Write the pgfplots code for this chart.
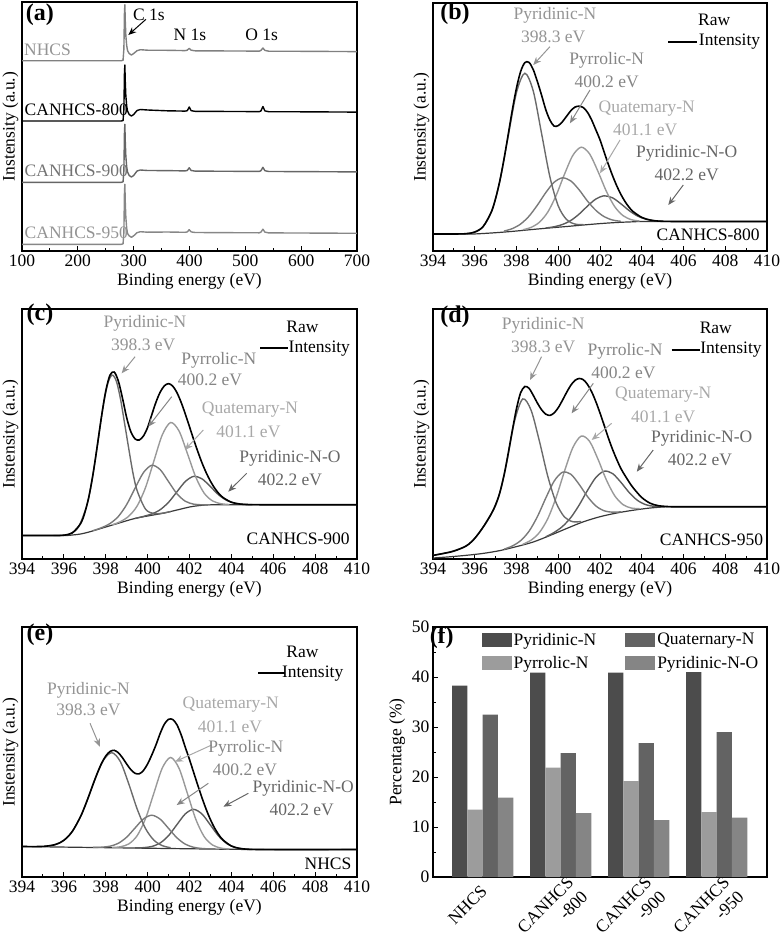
\documentclass[border=0pt]{standalone}
\usepackage{fontspec}
\setmainfont{Liberation Serif}
\usepackage{pgfplots}
\pgfplotsset{compat=1.18}
\usetikzlibrary{arrows.meta}
\newcommand\fs{\fontsize{17.5}{20}\selectfont}
\newcommand\fb{\fontsize{24}{26}\selectfont\bfseries}
\definecolor{cP1}{gray}{0.42}
\definecolor{cP2}{gray}{0.48}
\definecolor{cP3}{gray}{0.60}
\definecolor{cP4}{gray}{0.36}
\definecolor{cBg}{gray}{0.22}
\definecolor{tP1}{gray}{0.58}
\definecolor{tP2}{gray}{0.52}
\definecolor{tP3}{gray}{0.66}
\definecolor{tP4}{gray}{0.40}
\definecolor{aN}{gray}{0.50}
\definecolor{aNt}{gray}{0.58}
\definecolor{a9}{gray}{0.40}
\definecolor{a9t}{gray}{0.45}
\definecolor{a5}{gray}{0.53}
\definecolor{a5t}{gray}{0.58}
\definecolor{bP1}{gray}{0.30}
\definecolor{bP2}{gray}{0.61}
\definecolor{bP3}{gray}{0.39}
\definecolor{bP4}{gray}{0.52}
\pgfplotsset{
 base/.style={scale only axis, axis line style={line width=1.1pt}, tick align=inside,
   tick style={black, line width=0.9pt}, major tick length=5pt, minor tick length=3pt,
   tick label style={font=\fs}, label style={font=\fs},
   /pgf/number format/assume math mode=true, clip mode=individual},
 spec/.style={base, width=335pt, height=250pt, xmin=394, xmax=410, ymin=0, ymax=250,
   xtick={394,396,...,410}, minor x tick num=1, xtick pos=left, ytick=\empty,
   xlabel={Binding energy (eV)}, ylabel={Instensity (a.u.)}},
 env/.style={black, line width=1.6pt, smooth, no marks},
 comp/.style={line width=1.4pt, smooth, no marks},
 bgl/.style={cBg, line width=1.2pt, smooth, no marks},
 surv/.style={line width=1.4pt, sharp plot, no marks, line join=round},
}
\tikzset{
 lab/.style={font=\fs, inner sep=0pt},
 arr/.style={-{Stealth[length=8pt,width=6.5pt]}, line width=1pt},
 leg/.style={black, line width=2pt},
}
\begin{document}
\begin{tikzpicture}
\useasboundingbox (0,0) rectangle (780pt,-945pt);

% ---------------- (a) ----------------
\begin{axis}[base, at={(22pt,-251pt)}, anchor=south west, width=335pt, height=249pt,
  xmin=100, xmax=700, ymin=0, ymax=249, xtick={100,200,...,700}, minor x tick num=1,
  xtick pos=left, ytick=\empty, xlabel={Binding energy (eV)}, ylabel={Instensity (a.u.)}]
\addplot[surv, a5] coordinates {(100,6.7) (278,6.7) (281,7.2) (282.5,18.7) (283.5,57.7) (284.2,66.7) (285,48.7) (286,33.7) (287.5,22.9) (289,17.5) (292,15.2) (296,13.7) (300,15.2) (306,18.3) (312,19.3) (325,18.8) (360,19.0) (392,18.7) (396,19.1) (399.5,21.3) (403,19.1) (410,18.5) (480,18.3) (525,18.2) (528,18.9) (531.5,21.8) (535,18.9) (542,18.1) (600,18.0) (700,17.7)};
\addplot[surv, a9] coordinates {(100,68.7) (278,68.7) (281,69.2) (282.5,80.7) (283.5,118.0) (284.2,126.7) (285,109.3) (286,94.8) (287.5,84.4) (289,79.1) (292,75.5) (296,74.0) (300,75.5) (306,80.0) (312,81.0) (325,80.5) (360,80.4) (392,80.1) (396,80.5) (399.5,83.2) (403,80.5) (410,79.9) (480,79.7) (525,79.6) (528,80.3) (531.5,83.7) (535,80.3) (542,79.5) (600,79.4) (700,79.1)};
\addplot[surv, black] coordinates {(100,130) (278,130) (281,130.5) (282.5,142) (283.5,177.6) (284.2,186) (285,169.2) (286,155.2) (287.5,145.1) (289,140.1) (292,136.5) (296,135) (300,136.5) (306,140.5) (312,141.5) (325,141) (360,140.2) (392,139.9) (396,140.3) (399.5,144) (403,140.3) (410,139.7) (480,139.5) (525,139.4) (528,140.1) (531.5,144.5) (535,140.1) (542,139.3) (600,139.2) (700,138.9)};
\addplot[surv, aN] coordinates {(100,190.3) (278,190.3) (281,190.8) (282.5,202.3) (283.5,237.9) (284.2,246.3) (285,229.5) (286,215.5) (287.5,205.4) (289,200.4) (292,197.5) (296,196.0) (300,197.5) (306,200.3) (312,201.3) (325,200.8) (360,200.7) (392,200.4) (396,200.8) (399.5,202.7) (403,200.8) (410,200.2) (480,200.0) (525,199.9) (528,200.6) (531.5,203.0) (535,200.6) (542,199.8) (600,199.7) (700,199.4)};
\node[lab, font=\fb] at (axis cs:132.2,236) {(a)};
\node[lab] at (axis cs:327.5,236) {C 1s};
\draw[arr, black] (axis cs:322,231.7) -- (axis cs:290.4,216);
\node[lab] at (axis cs:400.9,216) {N 1s};
\node[lab] at (axis cs:529.3,216) {O 1s};
\node[lab, anchor=west, aNt] at (axis cs:103.6,201.7) {NHCS};
\node[lab, anchor=west, black] at (axis cs:104.5,141.7) {CANHCS-800};
\node[lab, anchor=west, a9t] at (axis cs:104.5,80) {CANHCS-900};
\node[lab, anchor=west, a5t] at (axis cs:104.5,18.7) {CANHCS-950};
\end{axis}

% ---------------- (b) ----------------
\begin{axis}[spec, at={(433pt,-251pt)}, anchor=south west, width=334pt, height=248pt, ymax=248]
\addplot[bgl] coordinates {(394,17) (395.8,17) (396.4,17.5) (397.2,18.6) (398.0,20.0) (398.8,21.6) (399.6,23.1) (400.4,24.5) (401.2,26.0) (402.0,27.4) (402.8,28.5) (403.6,29.2) (404.4,29.5) (410,29.5)};
\addplot[comp, cP4] coordinates {(399.4,22.97) (399.8,24.24) (400.2,26.48) (400.6,30.51) (401.0,36.91) (401.4,44.88) (401.8,51.97) (402.2,55.2) (402.6,53.17) (403.0,47.23) (403.4,40.36) (403.8,34.96) (404.2,31.78) (404.6,30.29) (405.0,29.72)};
\addplot[comp, cP3] coordinates {(398.3,21.22) (398.7,23.63) (399.1,28.81) (399.5,38.96) (399.9,55.67) (400.3,76.85) (400.7,95.67) (401.1,103.8) (401.5,97.17) (401.9,79.75) (402.3,59.92) (402.7,44.46) (403.1,35.41) (403.5,31.33) (403.9,29.97)};
\addplot[comp, cP2] coordinates {(397.4,19.92) (397.8,22.40) (398.2,27.03) (398.6,34.82) (399.0,45.85) (399.4,58.33) (399.8,68.68) (400.2,73.15) (400.6,70.08) (401.0,61.18) (401.4,49.93) (401.8,40.67) (402.2,34.33) (402.6,31.0) (403.0,29.67)};
\addplot[comp, cP1] coordinates {(395.6,17.35) (396.0,18.94) (396.4,24.39) (396.8,39.24) (397.2,69.58) (397.6,114.52) (398.0,158.55) (398.4,177.8) (398.8,160.15) (399.2,117.62) (399.6,74.08) (400.0,45.04) (400.4,31.39) (400.8,26.94) (401.2,26.35)};
\addplot[env] coordinates {(394,17.0) (395,17.0) (395.6,17.35) (396.0,18.95) (396.4,24.4) (396.8,39.4) (397.0,52.55) (397.2,70.1) (397.4,91.8) (397.6,116.2) (397.8,141.0) (398.0,163.1) (398.2,179.6) (398.4,188.4) (398.6,188.6) (398.8,181.5) (399.0,169.5) (399.2,155.9) (399.4,141.5) (399.6,130.9) (399.8,124.9) (400.0,125.4) (400.2,129.3) (400.4,134.8) (400.6,140.2) (400.8,143.9) (401.0,144.8) (401.2,143.4) (401.4,138.7) (401.6,131.0) (401.8,121.2) (402.0,111.2) (402.2,98.8) (402.4,86.7) (402.6,75.4) (402.8,65.3) (403.0,56.6) (403.2,49.4) (403.4,43.6) (403.6,39.2) (404.0,33.6) (404.4,31.0) (404.8,29.9) (405.4,29.55) (406,29.5) (410,29.5)};
\node[lab, font=\fb] at (axis cs:395.05,237.7) {(b)};
\node[lab, tP1] at (axis cs:399.84,236) {Pyridinic-N};
\node[lab, tP1] at (axis cs:399.76,214.3) {398.3 eV};
\draw[arr, tP1] (axis cs:399.6,204.3) -- (axis cs:398.8,186);
\node[lab, tP2] at (axis cs:402.32,191) {Pyrrolic-N};
\node[lab, tP2] at (axis cs:402.32,169.3) {400.2 eV};
\draw[arr, tP2] (axis cs:401.52,161) -- (axis cs:400.56,127.7);
\node[lab, tP3] at (axis cs:404.24,142.7) {Quatemary-N};
\node[lab, tP3] at (axis cs:404.16,121) {401.1 eV};
\draw[arr, tP3] (axis cs:402.96,111) -- (axis cs:402.0,77.7);
\node[lab, tP4] at (axis cs:406.15,97.7) {Pyridinic-N-O};
\node[lab, tP4] at (axis cs:406.15,76) {402.2 eV};
\draw[arr, tP4] (axis cs:405.99,66) -- (axis cs:405.27,46);
\node[lab, anchor=west] at (axis cs:406.69,231) {Raw};
\node[lab, anchor=west] at (axis cs:406.73,209.3) {Intensity};
\draw[leg] (axis cs:405.27,209.3) -- (axis cs:406.63,209.3);
\node[lab, anchor=east] at (axis cs:409.66,16) {CANHCS-800};
\end{axis}

% ---------------- (c) ----------------
\begin{axis}[spec, at={(22pt,-559pt)}, anchor=south west]
\addplot[bgl] coordinates {(394,23.5) (396.0,23.5) (396.4,24) (396.8,25) (397.2,27) (397.6,29.5) (398.0,32) (398.4,34.5) (398.8,37) (399.2,39.5) (399.6,41.5) (400.0,43) (400.4,44.5) (400.8,46) (401.2,48) (401.6,50) (402.0,52) (402.4,53.3) (402.8,54) (403.2,54.3) (410,54.3)};
\addplot[comp, cP4] coordinates {(399.4,40.57) (399.8,42.58) (400.2,45.07) (400.6,49.31) (401.0,56.74) (401.4,67.2) (401.8,77.48) (402.2,82.65) (402.6,80.13) (403.0,72.35) (403.4,64.04) (403.8,58.36) (404.2,55.62) (404.6,54.63) (405.0,54.37)};
\addplot[comp, cP3] coordinates {(398.3,34.1) (398.7,37.39) (399.1,42.81) (399.5,53.04) (399.9,71.5) (400.3,98.08) (400.7,124.14) (401.1,136.5) (401.5,128.04) (401.9,105.48) (402.3,81.9) (402.7,65.84) (403.1,58.11) (403.5,55.29) (403.9,54.5)};
\addplot[comp, cP2] coordinates {(397.4,28.36) (397.8,31.31) (398.2,35.45) (398.6,42.52) (399.0,54.49) (399.4,70.83) (399.8,86.38) (400.2,93.75) (400.6,89.38) (401.0,77.33) (401.4,65.24) (401.8,57.77) (402.2,54.85) (402.6,54.21) (403.0,54.26)};
\addplot[comp, cP1] coordinates {(395.5,23.5) (395.9,23.67) (396.3,25.22) (396.7,32.0) (397.1,53.79) (397.3,73.5) (397.5,99.24) (397.7,128.1) (397.9,155.53) (398.1,175.7) (398.3,183.9) (398.5,178.2) (398.7,160.53) (398.9,135.6) (399.1,110.24) (399.3,85.9) (399.5,68.29) (399.9,49.85) (400.3,45.42) (400.7,45.77) (401.1,47.5)};
\addplot[env] coordinates {(394,23.5) (395,23.5) (395.6,23.5) (396.0,23.8) (396.4,26.1) (396.8,35.5) (397.0,46.3) (397.2,62.9) (397.4,85.9) (397.6,113.8) (397.8,142.9) (398.0,168.0) (398.2,183.8) (398.4,187.0) (398.6,178.1) (398.8,160.8) (399.0,141.3) (399.2,127.2) (399.4,120.1) (399.6,119.0) (399.8,123.0) (400.0,131.6) (400.2,144.4) (400.4,156.9) (400.6,166.9) (400.8,173.2) (401.0,175.4) (401.2,172.9) (401.4,166.4) (401.6,156.7) (401.8,145.0) (402.0,132.3) (402.2,119.4) (402.4,107.3) (402.6,96.0) (402.8,86.2) (403.0,77.8) (403.2,70.9) (403.4,65.5) (403.6,61.5) (404.0,56.8) (404.4,55.0) (404.8,54.45) (405.4,54.3) (406,54.3) (410,54.3)};
\node[lab, font=\fb] at (axis cs:394.86,244) {(c)};
\node[lab, tP1] at (axis cs:399.87,235.7) {Pyridinic-N};
\node[lab, tP1] at (axis cs:399.79,214) {398.3 eV};
\draw[arr, tP1] (axis cs:399.4,202.3) -- (axis cs:398.76,185.7);
\node[lab, tP2] at (axis cs:403.4,199) {Pyrrolic-N};
\node[lab, tP2] at (axis cs:402.98,179) {400.2 eV};
\draw[arr, tP2] (axis cs:401.15,162.3) -- (axis cs:400.03,132.3);
\node[lab, tP3] at (axis cs:404.89,149) {Quatemary-N};
\node[lab, tP3] at (axis cs:404.81,127.3) {401.1 eV};
\draw[arr, tP3] (axis cs:402.66,129) -- (axis cs:401.78,109);
\node[lab, tP4] at (axis cs:406.8,100.7) {Pyridinic-N-O};
\node[lab, tP4] at (axis cs:406.8,79) {402.2 eV};
\draw[arr, tP4] (axis cs:404.73,85.7) -- (axis cs:403.85,67.3);
\node[lab, anchor=west] at (axis cs:406.62,232.3) {Raw};
\node[lab, anchor=west] at (axis cs:406.73,210.7) {Intensity};
\draw[leg] (axis cs:405.37,210.7) -- (axis cs:406.72,210.7);
\node[lab, anchor=east] at (axis cs:409.66,20.7) {CANHCS-900};
\end{axis}

% ---------------- (d) ----------------
\begin{axis}[spec, at={(433pt,-559pt)}, anchor=south west, width=334pt]
\addplot[bgl] coordinates {(394,1) (394.8,2.2) (395.6,3.7) (396.4,5.6) (397.2,8.4) (398.0,12.4) (398.8,17.0) (399.6,23.5) (400.4,30.5) (401.2,37.2) (402.0,42.3) (402.8,46.0) (403.6,48.8) (404.4,51.0) (405.2,52.2) (406,52.3) (410,52.3)};
\addplot[comp, cP4] coordinates {(399.4,22.1) (399.8,26.52) (400.2,32.52) (400.6,41.41) (401.0,53.89) (401.4,68.58) (401.8,81.47) (402.2,87.8) (402.6,85.47) (403.0,76.73) (403.4,66.44) (403.8,58.56) (404.2,54.27) (404.6,52.67) (405.0,52.35)};
\addplot[comp, cP3] coordinates {(398.3,14.73) (398.7,18.87) (399.1,26.58) (399.5,40.41) (399.9,61.66) (400.3,87.88) (400.7,111.47) (401.1,122.9) (401.5,117.67) (401.9,99.98) (402.3,79.36) (402.7,63.41) (403.1,54.43) (403.5,50.97) (403.9,50.38)};
\addplot[comp, cP2] coordinates {(397.4,9.81) (397.8,13.01) (398.2,18.41) (398.6,27.74) (399.0,42.34) (399.4,60.82) (399.8,77.8) (400.2,86.75) (400.6,84.8) (401.0,74.67) (401.4,62.44) (401.8,53.09) (402.2,48.21) (402.6,46.81) (403.0,47.21)};
\addplot[comp, cP1] coordinates {(394.0,3.63) (394.8,7.02) (395.5,11.97) (395.9,18.22) (396.3,28.71) (396.7,41.54) (397.1,59.1) (397.5,93.07) (397.9,137.41) (398.3,160.05) (398.7,148.68) (399.1,117.61) (399.5,82.62) (399.9,56.16) (400.3,41.97) (400.7,37.28) (401.1,37.55)};
\addplot[env] coordinates {(394.0,3.6) (394.5,5.55) (395.0,7.9) (395.6,13.2) (396.0,20.7) (396.4,31.9) (396.8,45.5) (397.0,54.4) (397.2,66.3) (397.4,83.5) (397.6,105.4) (397.8,128.5) (398.0,150.4) (398.2,166.4) (398.4,172.5) (398.6,170.7) (398.8,163.8) (399.0,156.0) (399.2,149.3) (399.4,144.9) (399.6,143.6) (399.8,146.0) (400.0,151.3) (400.2,158.7) (400.4,166.6) (400.6,173.7) (400.8,178.6) (401.0,180.5) (401.2,179.3) (401.4,174.6) (401.6,167.2) (401.8,157.4) (402.0,146.0) (402.2,133.7) (402.4,121.1) (402.6,109.7) (402.8,99.6) (403.0,90.5) (403.2,83.4) (403.4,76.8) (403.6,70.9) (404.0,61.5) (404.4,55.8) (404.8,53.3) (405.4,52.3) (406,52.3) (410,52.3)};
\node[lab, font=\fb] at (axis cs:395.05,242.3) {(d)};
\node[lab, tP1] at (axis cs:399.28,234) {Pyridinic-N};
\node[lab, tP1] at (axis cs:399.28,212.3) {398.3 eV};
\draw[arr, tP1] (axis cs:399.2,202.3) -- (axis cs:398.65,179);
\node[lab, tP2] at (axis cs:403.2,207.3) {Pyrrolic-N};
\node[lab, tP2] at (axis cs:403.12,185.7) {400.2 eV};
\draw[arr, tP2] (axis cs:401.68,175.7) -- (axis cs:400.64,145.7);
\node[lab, tP3] at (axis cs:405.03,164) {Quatemary-N};
\node[lab, tP3] at (axis cs:405.03,142.3) {401.1 eV};
\draw[arr, tP3] (axis cs:402.56,135.7) -- (axis cs:401.6,119);
\node[lab, tP4] at (axis cs:406.87,120.7) {Pyridinic-N-O};
\node[lab, tP4] at (axis cs:406.79,99) {402.2 eV};
\draw[arr, tP4] (axis cs:404.55,109) -- (axis cs:403.76,87.3);
\node[lab, anchor=west] at (axis cs:406.77,230.7) {Raw};
\node[lab, anchor=west] at (axis cs:406.8,209) {Intensity};
\draw[leg] (axis cs:405.43,209) -- (axis cs:406.79,209);
\node[lab, anchor=east] at (axis cs:409.82,19) {CANHCS-950};
\end{axis}

% ---------------- (e) ----------------
\begin{axis}[spec, at={(22pt,-877pt)}, anchor=south west]
\addplot[bgl] coordinates {(394,30.5) (405,27.5) (410,27.5)};
\addplot[comp, cP4] coordinates {(399.4,29.12) (399.8,29.36) (400.2,30.54) (400.6,34.03) (401.0,41.38) (401.4,52.38) (401.8,63.14) (402.2,67.66) (402.6,62.92) (403.0,51.95) (403.4,40.73) (403.8,33.16) (404.2,29.45) (404.6,28.05) (405.0,27.59)};
\addplot[comp, cP3] coordinates {(398.3,29.52) (398.7,30.22) (399.1,33.09) (399.5,41.31) (399.9,58.44) (400.3,83.97) (400.7,108.98) (401.1,119.56) (401.5,108.76) (401.9,83.53) (402.3,57.78) (402.7,40.43) (403.1,32.01) (403.5,28.92) (403.9,28.0)};
\addplot[comp, cP2] coordinates {(397.4,29.64) (397.8,29.83) (398.2,30.8) (398.6,33.7) (399.0,39.86) (399.4,49.04) (399.8,58.04) (400.2,61.81) (400.6,57.82) (401.0,48.6) (401.4,39.2) (401.8,32.83) (402.2,29.71) (402.6,28.52) (403.0,28.12)};
\addplot[comp, cP1] coordinates {(395.1,30.77) (395.5,31.97) (395.9,35.31) (396.3,42.72) (396.7,56.17) (397.1,75.9) (397.5,98.52) (397.9,117.12) (398.3,124.32) (398.7,115.28) (399.1,93.1) (399.5,68.05) (399.9,48.45) (400.3,36.83) (400.7,31.39) (401.1,29.31)};
\addplot[env] coordinates {(394,30.5) (395,30.6) (395.6,32.5) (396.0,36.7) (396.4,45.5) (396.8,60.6) (397.0,70.5) (397.2,81.5) (397.4,93.0) (397.6,104.0) (397.8,113.7) (398.0,121.0) (398.2,125.5) (398.4,126.7) (398.6,124.3) (398.8,119.2) (399.0,113.0) (399.2,107.3) (399.4,103.7) (399.6,103.2) (399.8,106.5) (400.0,113.1) (400.2,122.1) (400.4,132.2) (400.6,143.6) (400.8,152.9) (401.0,157.7) (401.2,157.5) (401.4,152.2) (401.6,142.3) (401.8,129.7) (402.0,117.5) (402.2,104.5) (402.4,91.5) (402.6,79.0) (402.8,67.5) (403.0,57.4) (403.2,48.9) (403.4,42.2) (403.6,37.1) (404.0,31.0) (404.4,28.6) (404.8,27.75) (405.4,27.5) (406,27.5) (410,27.5)};
\node[lab, font=\fb] at (axis cs:394.86,242) {(e)};
\node[lab, tP1] at (axis cs:397.17,187) {Pyridinic-N};
\node[lab, tP1] at (axis cs:397.17,167) {398.3 eV};
\draw[arr, tP1] (axis cs:397.25,153.7) -- (axis cs:397.72,130.3);
\node[lab, tP3] at (axis cs:403.97,172) {Quatemary-N};
\node[lab, tP3] at (axis cs:403.93,150.3) {401.1 eV};
\draw[arr, tP3] (axis cs:403.06,132) -- (axis cs:401.31,115.3);
\node[lab, tP2] at (axis cs:404.69,128.7) {Pyrrolic-N};
\node[lab, tP2] at (axis cs:404.65,107) {400.2 eV};
\draw[arr, tP2] (axis cs:402.9,93.7) -- (axis cs:401.39,72);
\node[lab, tP4] at (axis cs:407.43,88.7) {Pyridinic-N-O};
\node[lab, tP4] at (axis cs:407.36,67) {402.2 eV};
\draw[arr, tP4] (axis cs:404.81,83.7) -- (axis cs:403.62,70.3);
\node[lab, anchor=west] at (axis cs:406.62,225.3) {Raw};
\node[lab, anchor=west] at (axis cs:406.41,203.7) {Intensity};
\draw[leg] (axis cs:405.29,203.7) -- (axis cs:406.56,203.7);
\node[lab, anchor=east] at (axis cs:409.74,13.7) {NHCS};
\end{axis}

% ---------------- (f) ----------------
\begin{axis}[base, at={(433pt,-877pt)}, anchor=south west, width=334pt, height=250pt,
  ybar=0pt, bar width=15.3pt,
  xmin=-0.637, xmax=3.645, ymin=0, ymax=50,
  xtick={0}, xticklabels={NHCS},
  extra x ticks={1,2,3}, extra x tick labels={{CANHCS\\-800},{CANHCS\\-900},{CANHCS\\-950}},
  xticklabel style={rotate=45, anchor=north east, align=right, yshift=4pt},
  xtick style={draw=none},
  extra x tick style={xtick style={draw=none}, xticklabel style={xshift=12pt}},
  ytick={0,10,20,30,40,50}, minor y tick num=1, ytick pos=left,
  ylabel={Percentage (\%)},
  legend columns=2, transpose legend,
  legend style={draw=none, fill=none, font=\fs, at={(0.145,0.985)}, anchor=north west,
    legend cell align=left, row sep=6pt, inner sep=0pt,
    /tikz/every even column/.append style={column sep=27pt}},
  legend image code/.code={\draw[#1,draw=none] (0pt,-7pt) rectangle (30pt,7pt);},
]
\addplot[fill=bP1, draw=none] coordinates {(0,38.3) (1,40.9) (2,40.9) (3,41.0)};
\addplot[fill=bP2, draw=none] coordinates {(0,13.5) (1,21.9) (2,19.2) (3,13.0)};
\addplot[fill=bP3, draw=none] coordinates {(0,32.5) (1,24.8) (2,26.8) (3,29.0)};
\addplot[fill=bP4, draw=none] coordinates {(0,15.9) (1,12.8) (2,11.4) (3,11.9)};
\legend{Pyridinic-N, Pyrrolic-N, Quaternary-N, Pyridinic-N-O}
\node[lab, font=\fb] at (axis cs:-0.525,47.8) {(f)};
\end{axis}
\end{tikzpicture}
\end{document}
